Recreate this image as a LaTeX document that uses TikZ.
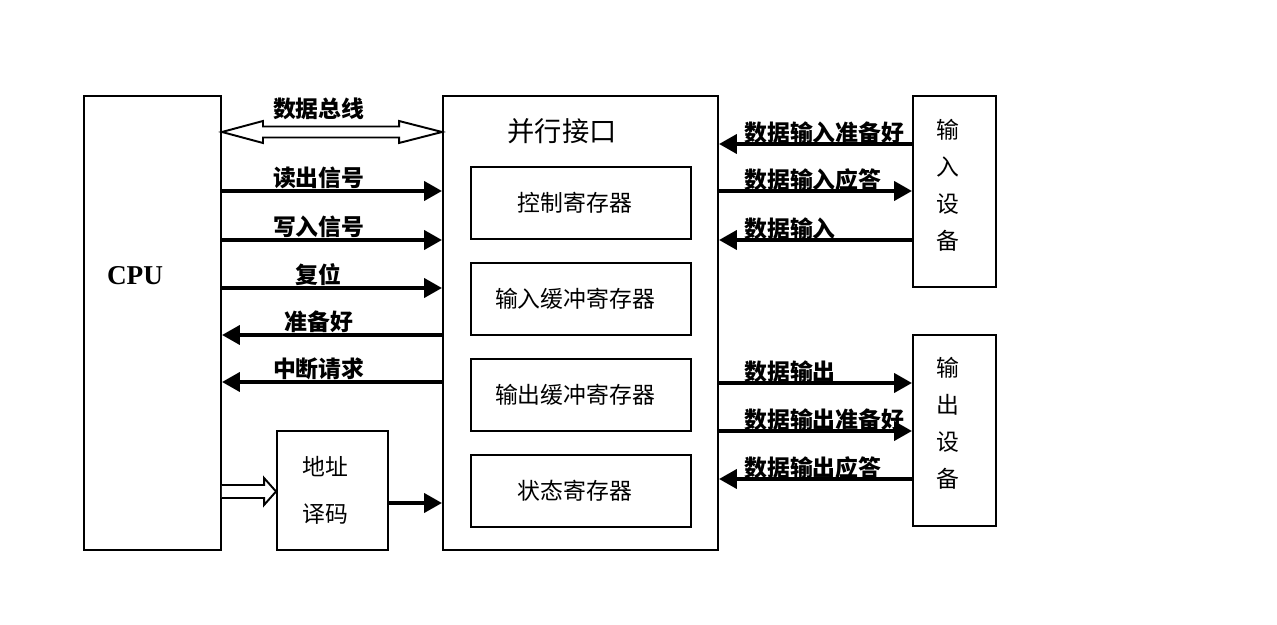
\documentclass[tikz,border=0pt]{standalone}
\usepackage{fontspec}
\setmainfont{Liberation Serif}
\newfontfamily\cjk{Noto Sans CJK SC}
\usetikzlibrary{positioning,arrows.meta,calc}

\begin{document}
\begin{tikzpicture}[>={Triangle[length=0.36cm,width=0.38cm]},
    box/.style={draw,line width=1.1pt,inner sep=0pt},
    sig/.style={line width=2.3pt,->},
    hollow/.style={draw,line width=1.1pt,fill=white,line join=miter},
    lab/.style={font=\cjk\bfseries\fontsize{13}{13}\selectfont,inner sep=0pt},
    txt/.style={font=\cjk\fontsize{13}{13}\selectfont,inner sep=0pt}]

    \useasboundingbox (0,0) rectangle (25.54,12.5);

    % blocks
    \node[box,minimum width=2.74cm,minimum height=9.08cm] (cpu) at (3.05,6.04) {};
    \node[box,minimum width=5.5cm,minimum height=9.08cm] (pif) at (11.61,6.04) {};
    \node[box,minimum width=2.22cm,minimum height=2.38cm] (addr) at (6.65,2.69) {};
    \node[box,minimum width=1.66cm,minimum height=3.82cm] (indev) at (19.09,8.67) {};
    \node[box,minimum width=1.66cm,minimum height=3.82cm] (outdev) at (19.09,3.89) {};

    % registers
    \node[box,minimum width=4.4cm,minimum height=1.44cm] (ctrl) at (11.62,8.44) {};
    \node[box,minimum width=4.4cm,minimum height=1.44cm] (inbuf) at (11.62,6.52) {};
    \node[box,minimum width=4.4cm,minimum height=1.44cm] (outbuf) at (11.62,4.60) {};
    \node[box,minimum width=4.4cm,minimum height=1.44cm] (status) at (11.62,2.68) {};

    % texts in the blocks
    \node[font=\bfseries\fontsize{15.5}{15.5}\selectfont] (cputxt) at (2.7,6.98) {CPU};
    \node[font=\cjk\fontsize{15.5}{15.5}\selectfont] (piftxt) at (11.24,9.88) {并行接口};
    \node[txt] (ctrltxt) at (11.5,8.44) {控制寄存器};
    \node[txt] (inbuftxt) at (11.5,6.52) {输入缓冲寄存器};
    \node[txt] (outbuftxt) at (11.5,4.60) {输出缓冲寄存器};
    \node[txt] (statustxt) at (11.5,2.68) {状态寄存器};
    \node[txt] (addrtxt1) at (6.5,3.16) {地址};
    \node[txt] (addrtxt2) at (6.5,2.22) {译码};
    \node[txt,align=center,font=\cjk\fontsize{13}{21}\selectfont] (indevtxt) at (18.96,8.8) {输\\入\\设\\备};
    \node[txt,align=center,font=\cjk\fontsize{13}{21}\selectfont] (outdevtxt) at (18.96,4.04) {输\\出\\设\\备};

    % data bus (hollow double arrow)
    \coordinate (busL) at (cpu.east|-0,9.86);
    \coordinate (busR) at (pif.west|-0,9.86);
    \draw[hollow] (busL) -- ++(0.82,0.22) -- ++(0,-0.11) -- ($(busR)+(-0.86,0.11)$)
        -- ++(0,0.11) -- (busR) -- ++(-0.86,-0.22) -- ++(0,0.11)
        -- ($(busL)+(0.82,-0.11)$) -- ++(0,-0.11) -- cycle;
    \node[lab,anchor=south] at ($(busL)!0.44!(busR)+(0,0.24)$) {数据总线};

    % CPU side signals
    \draw[sig] (cpu.east|-0,8.68) -- (pif.west|-0,8.68) node[lab,anchor=south,pos=0.44] {读出信号};
    \draw[sig] (cpu.east|-0,7.70) -- (pif.west|-0,7.70) node[lab,anchor=south,pos=0.44] {写入信号};
    \draw[sig] (cpu.east|-0,6.74) -- (pif.west|-0,6.74) node[lab,anchor=south,pos=0.44] {复位};
    \draw[sig] (pif.west|-0,5.80) -- (cpu.east|-0,5.80) node[lab,anchor=south,pos=0.56] {准备好};
    \draw[sig] (pif.west|-0,4.86) -- (cpu.east|-0,4.86) node[lab,anchor=south,pos=0.56] {中断请求};

    % address decoding
    \coordinate (adL) at (cpu.east|-0,2.67);
    \coordinate (adR) at (addr.west|-0,2.67);
    \draw[hollow] (adL) ++(0,0.13) -- ($(adR)+(-0.24,0.13)$) -- ++(0,0.14) -- (adR)
        -- ++(-0.24,-0.27) -- ++(0,0.14) -- ($(adL)+(0,-0.13)$);
    \draw[sig] (addr.east|-0,2.44) -- (pif.west|-0,2.44);

    % device side signals
    \draw[sig] (indev.west|-0,9.62) -- (pif.east|-0,9.62);
    \draw[sig] (pif.east|-0,8.68) -- (indev.west|-0,8.68);
    \draw[sig] (indev.west|-0,7.70) -- (pif.east|-0,7.70);
    \draw[sig] (pif.east|-0,4.84) -- (outdev.west|-0,4.84);
    \draw[sig] (pif.east|-0,3.88) -- (outdev.west|-0,3.88);
    \draw[sig] (outdev.west|-0,2.92) -- (pif.east|-0,2.92);

    % Labels for the device side
    \node[lab,anchor=south west] at ($(pif.east|-0,9.62)+(0.5,0)$) {数据输入准备好};
    \node[lab,anchor=south west] at ($(pif.east|-0,8.68)+(0.5,0)$) {数据输入应答};
    \node[lab,anchor=south west] at ($(pif.east|-0,7.70)+(0.5,0)$) {数据输入};
    \node[lab,anchor=south west] at ($(pif.east|-0,4.84)+(0.5,0)$) {数据输出};
    \node[lab,anchor=south west] at ($(pif.east|-0,3.88)+(0.5,0)$) {数据输出准备好};
    \node[lab,anchor=south west] at ($(pif.east|-0,2.92)+(0.5,0)$) {数据输出应答};
\end{tikzpicture}
\end{document}
